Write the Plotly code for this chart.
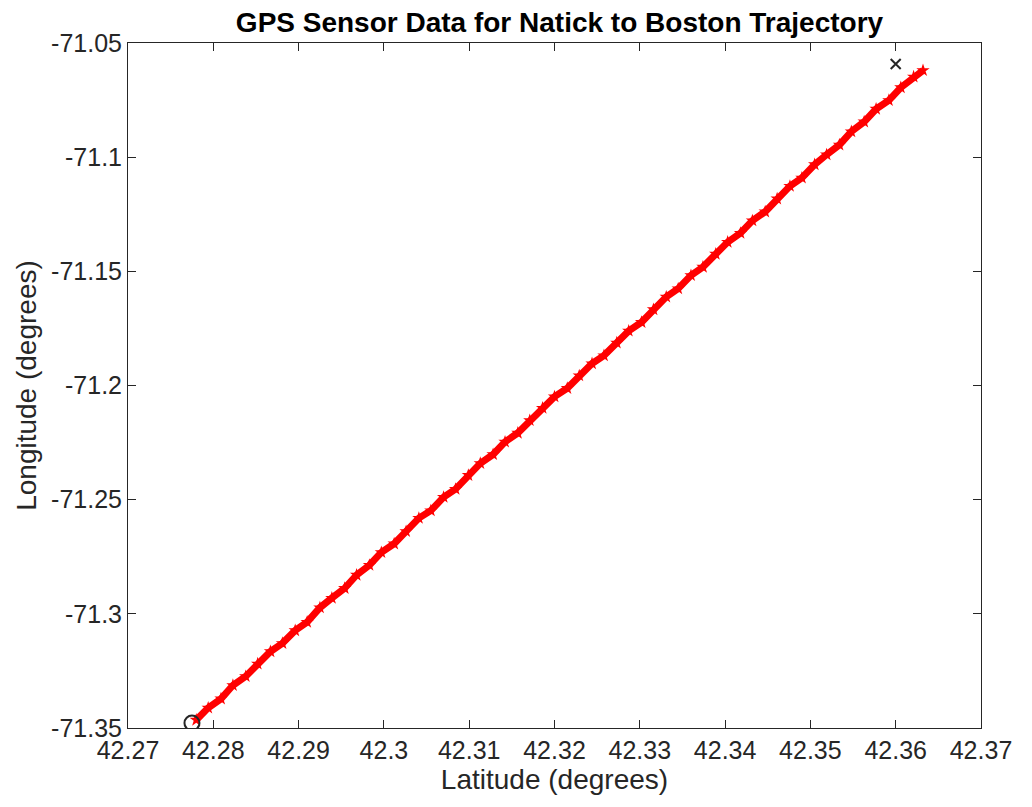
import plotly.graph_objects as go

lat = [42.2780, 42.2794, 42.2809, 42.2823, 42.2838, 42.2852, 42.2867, 42.2881, 42.2896, 42.2910,
       42.2925, 42.2939, 42.2954, 42.2968, 42.2983, 42.2997, 42.3012, 42.3026, 42.3041, 42.3055,
       42.3070, 42.3084, 42.3099, 42.3113, 42.3128, 42.3142, 42.3157, 42.3171, 42.3186, 42.3200,
       42.3215, 42.3229, 42.3244, 42.3258, 42.3273, 42.3287, 42.3302, 42.3316, 42.3331, 42.3345,
       42.3360, 42.3374, 42.3389, 42.3403, 42.3418, 42.3432, 42.3447, 42.3461, 42.3476, 42.3490,
       42.3505, 42.3519, 42.3534, 42.3548, 42.3563, 42.3577, 42.3592, 42.3606, 42.3621, 42.3632]
lon = [-71.3465, -71.3412, -71.3372, -71.3313, -71.3274, -71.3219, -71.3165, -71.3129, -71.3073, -71.3036,
       -71.2973, -71.2931, -71.2888, -71.2830, -71.2787, -71.2731, -71.2693, -71.2639, -71.2581, -71.2548,
       -71.2489, -71.2454, -71.2393, -71.2341, -71.2302, -71.2247, -71.2208, -71.2153, -71.2099, -71.2049,
       -71.2012, -71.1957, -71.1904, -71.1869, -71.1813, -71.1761, -71.1723, -71.1667, -71.1612, -71.1576,
       -71.1518, -71.1481, -71.1424, -71.1372, -71.1333, -71.1278, -71.1239, -71.1182, -71.1127, -71.1091,
       -71.1032, -71.0989, -71.0946, -71.0888, -71.0845, -71.0789, -71.0751, -71.0695, -71.0648, -71.0620]

start_lat, start_lon = [42.2775], [-71.3478]
end_lat, end_lon = [42.3600], [-71.0592]

x_ticks = [42.27, 42.28, 42.29, 42.30, 42.31, 42.32, 42.33, 42.34, 42.35, 42.36, 42.37]
x_labels = ["42.27", "42.28", "42.29", "42.3", "42.31", "42.32", "42.33", "42.34", "42.35", "42.36", "42.37"]
y_ticks = [-71.35, -71.30, -71.25, -71.20, -71.15, -71.10, -71.05]
y_labels = ["-71.35", "-71.3", "-71.25", "-71.2", "-71.15", "-71.1", "-71.05"]

fig = go.Figure()
fig.add_trace(go.Scatter(x=lat, y=lon, mode="lines+markers",
                         line=dict(color="#ff0000", width=7),
                         marker=dict(color="#ff0000", size=10, symbol="star"),
                         showlegend=False))
fig.add_trace(go.Scatter(x=start_lat, y=start_lon, mode="markers",
                         marker=dict(symbol="circle-open", size=15, color="#262626", line=dict(width=2)),
                         showlegend=False))
fig.add_trace(go.Scatter(x=end_lat, y=end_lon, mode="markers",
                         marker=dict(symbol="x-thin-open", size=10, color="#262626", line=dict(width=2)),
                         showlegend=False))

font_family = "Liberation Sans, Arial, sans-serif"
axis_common = dict(showgrid=False, zeroline=False, showline=True, linecolor="#262626", linewidth=1,
                   mirror="ticks", ticks="inside", ticklen=8, tickcolor="#262626", tickwidth=1,
                   tickfont=dict(family=font_family, size=25, color="#262626"))

# page has an 8px body margin, so the figure is sized to fit the 1032x807 window
W, H = 1016, 791
L, R, T, B = 120, 33, 35, 71
fig.update_layout(
    width=W, height=H,
    paper_bgcolor="white", plot_bgcolor="white",
    margin=dict(l=L, r=R, t=T, b=B),
    title=dict(text="<b>GPS Sensor Data for Natick to Boston Trajectory</b>",
               x=(L + (W - R)) / 2 / W, xanchor="center", y=1 - 14 / H, yanchor="middle",
               font=dict(family=font_family, size=28, color="#000000")),
    xaxis=dict(range=[42.27, 42.37], tickvals=x_ticks, ticktext=x_labels,
               title=dict(text="Latitude (degrees)", standoff=2,
                          font=dict(family=font_family, size=28, color="#262626")),
               **axis_common),
    yaxis=dict(range=[-71.35, -71.05], tickvals=y_ticks, ticktext=y_labels,
               title=dict(text="Longitude (degrees)", standoff=6,
                          font=dict(family=font_family, size=28, color="#262626")),
               **axis_common),
)

fig.write_html("out.html")
